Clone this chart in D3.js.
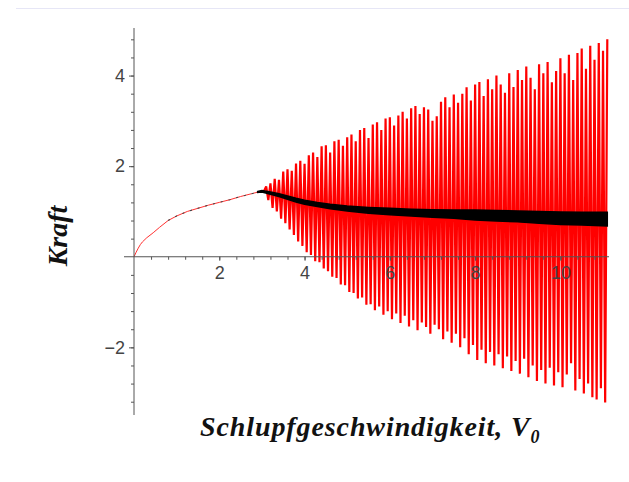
<!DOCTYPE html>
<html>
<head>
<meta charset="utf-8">
<script src="https://cdn.jsdelivr.net/npm/d3@7"></script>
<style>
  html, body { margin: 0; padding: 0; background: #fff; }
  svg { display: block; }
</style>
</head>
<body>
<div id="chart"></div>
<script>
// smooth part of the force curve (before the onset of oscillation)
const smoothX = [0, 0.05, 0.1, 0.15, 0.2, 0.3, 0.45, 0.6, 0.8, 1.0, 1.25, 1.5, 1.75, 2.0, 2.25, 2.5, 2.75, 3.0];
const smoothY = [0, 0.1, 0.19, 0.27, 0.33, 0.42, 0.53, 0.65, 0.8, 0.9, 1.0, 1.07, 1.14, 1.2, 1.26, 1.33, 1.39, 1.45];

// oscillating part: one spike per entry (maximum, then following minimum)
const spikeX = [3.0, 3.1, 3.2, 3.3, 3.4, 3.5, 3.6, 3.7, 3.8, 3.9,
  4.0, 4.1, 4.2, 4.3, 4.4, 4.5, 4.6, 4.7, 4.8, 4.9,
  5.0, 5.1, 5.2, 5.3, 5.4, 5.5, 5.6, 5.7, 5.8, 5.9,
  6.0, 6.1, 6.2, 6.3, 6.4, 6.5, 6.6, 6.7, 6.8, 6.9,
  7.0, 7.1, 7.2, 7.3, 7.4, 7.5, 7.6, 7.7, 7.8, 7.9,
  8.0, 8.1, 8.2, 8.3, 8.4, 8.5, 8.6, 8.7, 8.8, 8.9,
  9.0, 9.1, 9.2, 9.3, 9.4, 9.5, 9.6, 9.7, 9.8, 9.9,
  10.0, 10.1, 10.2, 10.3, 10.4, 10.5, 10.6, 10.7, 10.8, 10.9,
  11.0, 11.1];
const spikeHigh = [1.45, 1.55, 1.62, 1.72, 1.70, 1.88, 1.93, 1.90, 2.06, 2.12,
  2.05, 2.24, 2.30, 2.20, 2.44, 2.46, 2.30, 2.55, 2.58, 2.45,
  2.64, 2.70, 2.55, 2.80, 2.84, 2.62, 2.92, 2.97, 2.80, 3.05,
  3.08, 2.90, 3.12, 3.20, 3.05, 3.28, 3.33, 3.15, 3.30, 3.25,
  3.00, 3.10, 3.42, 3.52, 3.30, 3.58, 3.40, 3.60, 3.74, 3.45,
  3.80, 3.86, 3.55, 3.92, 3.70, 4.00, 3.80, 3.62, 4.05, 3.75,
  4.12, 3.90, 4.20, 3.95, 3.70, 4.25, 4.05, 4.30, 3.85, 4.10,
  4.38, 4.05, 4.46, 3.90, 4.50, 4.60, 4.15, 4.66, 4.35, 4.72,
  4.55, 4.80];
const spikeLow = [1.45, 1.25, 1.08, 1.00, 0.84, 0.74, 0.60, 0.48, 0.34, 0.24,
  0.10, 0.04, -0.10, -0.12, -0.26, -0.32, -0.44, -0.47, -0.61, -0.63,
  -0.78, -0.80, -0.92, -0.90, -1.06, -1.05, -1.18, -1.10, -1.28, -1.20,
  -1.38, -1.25, -1.46, -1.30, -1.54, -1.40, -1.62, -1.45, -1.55, -1.70,
  -1.50, -1.60, -1.82, -1.65, -1.90, -1.70, -2.00, -1.80, -2.15, -1.95,
  -2.28, -2.05, -2.35, -2.10, -2.40, -2.15, -2.46, -2.20, -2.52, -2.30,
  -2.58, -2.25, -2.66, -2.40, -2.74, -2.50, -2.80, -2.45, -2.84, -2.55,
  -2.88, -2.60, -2.35, -2.95, -2.70, -3.02, -2.80, -3.10, -3.15, -2.90,
  -3.22, -3.28];

// mean force (black band, upper and lower edge)
const meanX = [2.9, 3.0, 3.2, 3.4, 3.6, 3.8, 4.0, 4.3, 4.6, 5.0, 5.5, 6.0, 6.5, 7.0, 7.5, 8.0, 8.5, 9.0, 9.5, 10.0, 10.5, 11.1];
const meanUpper = [1.44, 1.46, 1.43, 1.39, 1.34, 1.29, 1.25, 1.20, 1.16, 1.12, 1.09, 1.07, 1.05, 1.04, 1.03, 1.03, 1.02, 1.01, 1.00, 0.99, 0.98, 0.98];
const meanLower = [1.42, 1.43, 1.38, 1.33, 1.27, 1.21, 1.16, 1.11, 1.06, 1.01, 0.96, 0.93, 0.90, 0.87, 0.85, 0.81, 0.79, 0.77, 0.74, 0.71, 0.70, 0.68];

const xTicks = [2, 4, 6, 8, 10];
const yTicks = [-2, 2, 4];

const width = 629;
const height = 482;

const svg = d3.select("#chart").append("svg")
    .attr("width", width)
    .attr("height", height);

// faint frame line at the top
svg.append("line")
    .attr("x1", 16).attr("x2", width)
    .attr("y1", 8.5).attr("y2", 8.5)
    .attr("stroke", "#e6e6f6");

const x = d3.scaleLinear().domain([0, 11.14]).range([134, 609]);
const y = d3.scaleLinear().domain([-3.5, 5.05]).range([415.3, 28]);

const line = d3.line()
    .x(d => x(d.x))
    .y(d => y(d.y));

// red force curve: smooth start
let smoothPts = smoothX.map((v, i) => ({x: v, y: smoothY[i]}));
svg.append("path")
    .datum(smoothPts)
    .attr("d", line)
    .attr("fill", "none")
    .attr("stroke", "#ff3030")
    .attr("stroke-width", 1);

// black dashes along the smooth start
svg.append("path")
    .datum(smoothPts.filter(d => d.x >= 0.75))
    .attr("d", line)
    .attr("fill", "none")
    .attr("stroke", "#444")
    .attr("stroke-width", 1.1)
    .attr("stroke-dasharray", "2,6");

// red force curve: oscillation as zigzag
let zig = [];
spikeX.forEach((v, i) => {
    zig.push({x: v, y: spikeHigh[i]});
    let next = i < spikeX.length - 1 ? spikeX[i + 1] : v + 0.1;
    zig.push({x: (v + next) / 2, y: spikeLow[i]});
});
zig.pop();
svg.append("path")
    .datum(zig)
    .attr("d", line)
    .attr("fill", "none")
    .attr("stroke", "#ff0000")
    .attr("stroke-width", 2.2)
    .attr("stroke-linejoin", "bevel");

// mean force band
let band = meanX.map((v, i) => ({x: v, hi: meanUpper[i], lo: meanLower[i]}));
let area = d3.area()
    .x(d => x(d.x))
    .y0(d => y(d.lo))
    .y1(d => y(d.hi));
svg.append("path")
    .datum(band)
    .attr("d", area)
    .attr("fill", "#000")
    .attr("stroke", "#000")
    .attr("stroke-width", 1.5);

// axes
const axisColor = "#555";

svg.append("line")
    .attr("x1", x(0) - 10).attr("x2", 609)
    .attr("y1", y(0)).attr("y2", y(0))
    .attr("stroke", axisColor);
svg.append("line")
    .attr("x1", x(0)).attr("x2", x(0))
    .attr("y1", 28).attr("y2", 415)
    .attr("stroke", axisColor);

let xMinor = d3.range(1, 28).map(k => k * 0.4);
let yMinor = d3.range(-8, 13).filter(k => k != 0).map(k => k * 0.4);

let gx = svg.append("g")
    .attr("transform", `translate(0,${y(0)})`);
gx.append("g")
    .call(d3.axisBottom(x).tickValues(xMinor).tickSize(3).tickFormat(""))
    .call(g => g.select(".domain").remove());
gx.append("g")
    .call(d3.axisBottom(x).tickValues(xTicks).tickSize(4).tickPadding(5).tickFormat(d3.format("d")))
    .call(g => g.select(".domain").remove());

let gy = svg.append("g")
    .attr("transform", `translate(${x(0)},0)`);
gy.append("g")
    .call(d3.axisLeft(y).tickValues(yMinor).tickSize(3).tickFormat(""))
    .call(g => g.select(".domain").remove());
gy.append("g")
    .call(d3.axisLeft(y).tickValues(yTicks).tickSize(5).tickPadding(4).tickFormat(d3.format("d")))
    .call(g => g.select(".domain").remove());

svg.selectAll(".tick line").attr("stroke", axisColor);
svg.selectAll(".tick text")
    .attr("fill", "#444")
    .style("font-family", "Liberation Sans, Arial, sans-serif")
    .style("font-size", "18px");

// axis titles
svg.append("text")
    .attr("transform", "translate(57,236) rotate(-90)")
    .attr("text-anchor", "middle")
    .attr("dominant-baseline", "central")
    .attr("font-family", "Liberation Serif, Times New Roman, serif")
    .attr("font-weight", "bold")
    .attr("font-style", "italic")
    .attr("font-size", 28)
    .attr("fill", "#111")
    .text("Kraft");

let xt = svg.append("text")
    .attr("x", 200)
    .attr("y", 436)
    .attr("font-family", "Liberation Serif, Times New Roman, serif")
    .attr("font-weight", "bold")
    .attr("font-style", "italic")
    .attr("font-size", 28)
    .attr("letter-spacing", 0.9)
    .attr("fill", "#111");
xt.append("tspan").text("Schlupfgeschwindigkeit, V");
xt.append("tspan")
    .attr("dy", 7)
    .attr("font-size", 18)
    .attr("letter-spacing", 0)
    .text("0");
</script>
</body>
</html>
